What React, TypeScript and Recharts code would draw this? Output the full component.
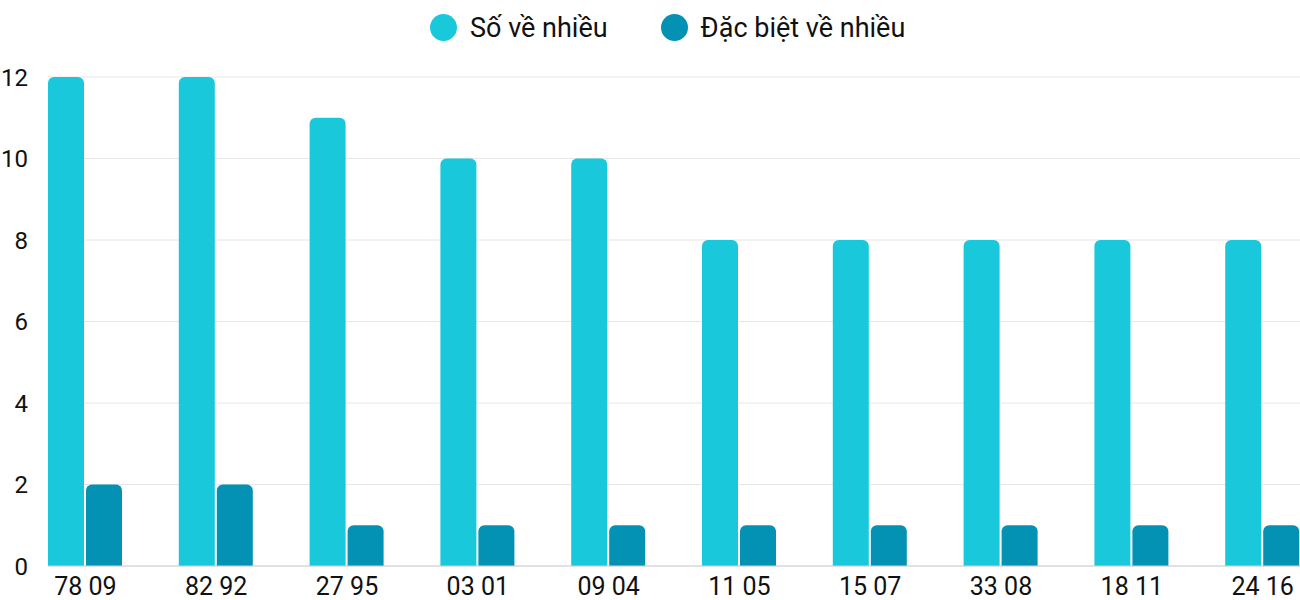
import { BarChart, Bar, XAxis, YAxis, CartesianGrid, Legend } from "recharts"

const categories = ["78 09", "82 92", "27 95", "03 01", "09 04", "11 05", "15 07", "33 08", "18 11", "24 16"]
const soVeNhieu = [12, 12, 11, 10, 10, 8, 8, 8, 8, 8]
const dacBietVeNhieu = [2, 2, 1, 1, 1, 1, 1, 1, 1, 1]
const yTicks = [0, 2, 4, 6, 8, 10, 12]

const series = [
  { key: "so", name: "Số về nhiều", color: "#1ac8db" },
  { key: "db", name: "Đặc biệt về nhiều", color: "#0492b4" },
]

const data = categories.map((c, i) => ({ name: c, so: soVeNhieu[i], db: dacBietVeNhieu[i] }))

const font = "Roboto, 'Noto Sans', sans-serif"

// legend sits above the plot, centred on the plot area rather than the page
const LegendContent = () => (
  <div
    style={{
      height: 27,
      display: "flex",
      alignItems: "center",
      paddingLeft: 430,
      gap: 53,
      fontFamily: font,
      fontSize: 27,
      color: "#111",
    }}
  >
    {series.map((s) => (
      <div key={s.key} style={{ display: "flex", alignItems: "center", gap: 13, whiteSpace: "nowrap" }}>
        <div style={{ width: 27, height: 27, borderRadius: "50%", backgroundColor: s.color }} />
        <span>{s.name}</span>
      </div>
    ))}
  </div>
)

export default function App() {
  return (
    <div style={{ position: "fixed", top: 0, left: 0, width: 1300, height: 600, background: "#fff", overflow: "hidden" }}>
      <BarChart
        width={1300}
        height={600}
        data={data}
        margin={{ top: 50, right: 0, bottom: 0, left: 0 }}
        barGap={2}
        barSize={36}
      >
        <CartesianGrid stroke="#e6e6e6" vertical={false} />
        <XAxis
          dataKey="name"
          padding={{ left: -28, right: -28 }}
          height={34}
          axisLine={{ stroke: "#cfcfcf" }}
          tickLine={false}
          tick={{ fontSize: 25, fill: "#111", fontFamily: font }}
          tickMargin={5}
          interval={0}
        />
        <YAxis
          width={48}
          domain={[0, 12]}
          ticks={yTicks}
          axisLine={false}
          tickLine={false}
          tickMargin={14}
          tick={{ fontSize: 24, fill: "#111", fontFamily: font }}
        />
        <Legend verticalAlign="top" wrapperStyle={{ top: 14, left: 0, width: 1300 }} content={<LegendContent />} />
        {series.map((s) => (
          <Bar key={s.key} dataKey={s.key} name={s.name} fill={s.color} radius={[6, 6, 0, 0]} isAnimationActive={false} />
        ))}
      </BarChart>
    </div>
  )
}
